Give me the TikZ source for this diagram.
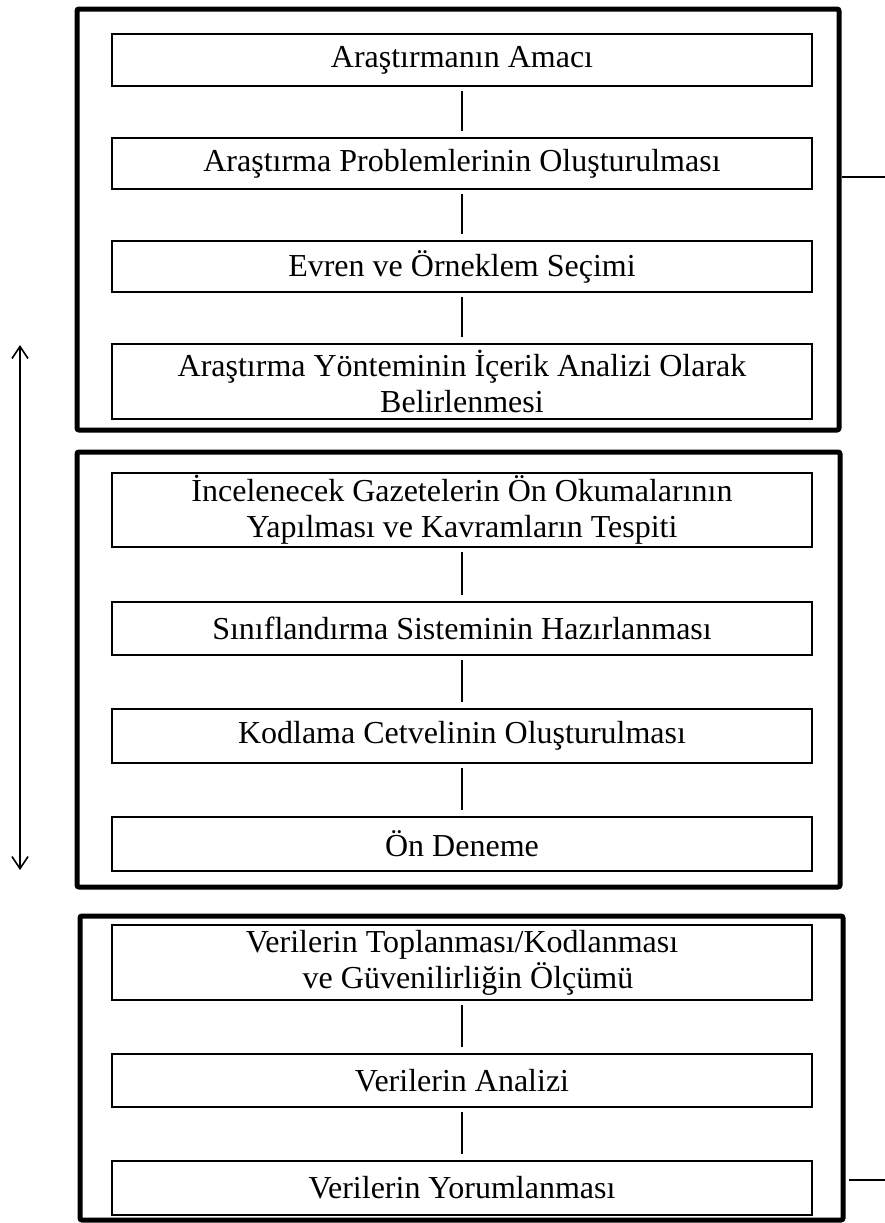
\documentclass[tikz,border=0pt]{standalone}
\usepackage{fontspec}
\setmainfont{Liberation Serif}
\usetikzlibrary{arrows.meta}
\begin{document}
\begin{tikzpicture}[x=0.5pt,y=-0.5pt,
  inbox/.style={draw, line width=1pt, minimum width=350pt, inner sep=0pt, align=center,
    font=\fontsize{16}{18}\selectfont},
  outbox/.style={draw, line width=2.5pt, inner sep=0pt, rounded corners=1pt},
  link/.style={line width=0.7pt, shorten <=2pt, shorten >=3pt},
  side/.style={line width=1pt},
  both/.style={line width=0.8pt, {Straight Barb[length=6pt,width=8pt]}-{Straight Barb[length=6pt,width=8pt]}}]
\useasboundingbox (0,0) rectangle (885,1223);
% outer frames
\node[outbox, minimum width=381pt, minimum height=210.5pt] (o1) at (458,219.5) {};
\node[outbox, minimum width=381.5pt, minimum height=217.5pt] (o2) at (458.5,669.5) {};
\node[outbox, minimum width=381.5pt, minimum height=152pt] (o3) at (461.5,1068) {};
% inner boxes
\node[inbox, minimum height=26pt] (a1) at (462,60) {\raisebox{-1pt}{Araştırmanın Amacı}};
\node[inbox, minimum height=25.5pt] (a2) at (462,163.5) {\raisebox{-1pt}{Araştırma Problemlerinin Oluşturulması}};
\node[inbox, minimum height=25.5pt] (a3) at (462,266.5) {\raisebox{-1pt}{Evren ve Örneklem Seçimi}};
\node[inbox, minimum height=37.5pt] (a4) at (462,381.5) {Araştırma Yönteminin İçerik Analizi Olarak\\Belirlenmesi};
\node[inbox, minimum height=37pt] (b1) at (462,510) {İncelenecek Gazetelerin Ön Okumalarının\\Yapılması ve Kavramların Tespiti};
\node[inbox, minimum height=26.5pt] (b2) at (462,628.5) {\raisebox{-1pt}{Sınıflandırma Sisteminin Hazırlanması}};
\node[inbox, minimum height=27pt] (b3) at (462,736) {\raisebox{-1.5pt}{Kodlama Cetvelinin Oluşturulması}};
\node[inbox, minimum height=27pt] (b4) at (462,844) {\raisebox{-1pt}{Ön Deneme}};
\node[inbox, minimum height=37.5pt] (c1) at (462,962.5) {Verilerin Toplanması/Kodlanması\\\hspace*{6pt}ve Güvenilirliğin Ölçümü};
\node[inbox, minimum height=26.5pt] (c2) at (462,1080.5) {\raisebox{-1pt}{Verilerin Analizi}};
\node[inbox, minimum height=27pt] (c3) at (462,1188) {\raisebox{-1pt}{Verilerin Yorumlanması}};
% connectors
\draw[link] (a1.south) -- (a2.north);
\draw[link] (a2.south) -- (a3.north);
\draw[link] (a3.south) -- (a4.north);
\draw[link] (b1.south) -- (b2.north);
\draw[link] (b2.south) -- (b3.north);
\draw[link] (b3.south) -- (b4.north);
\draw[link] (c1.south) -- (c2.north);
\draw[link] (c2.south) -- (c3.north);
% side lines
\coordinate (r1) at (885,177);
\coordinate (r2) at (885,1180);
\draw[side] (r1 -| o1.east) -- (r1);
\draw[side] ([xshift=1.5pt]r2 -| o3.east) -- (r2);
% left double arrow
\coordinate (lt) at (20,345);
\coordinate (lb) at (20,870);
\draw[both] (lt) -- (lb);
\end{tikzpicture}
\end{document}
